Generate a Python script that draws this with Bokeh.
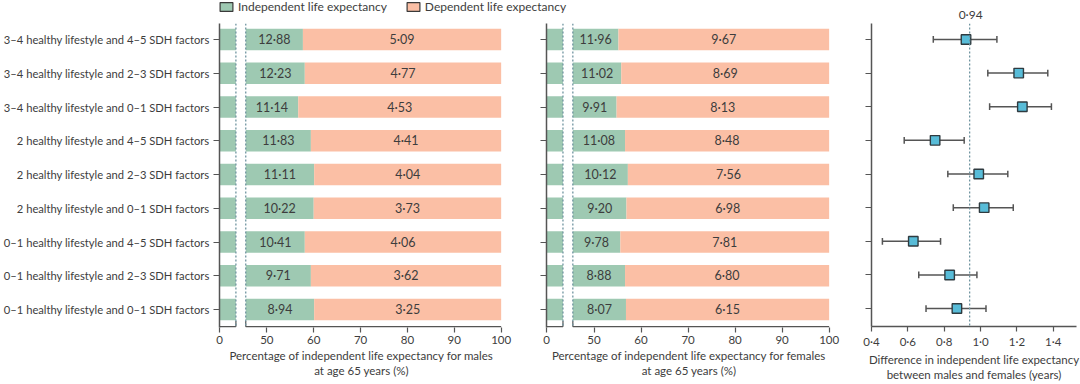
from bokeh.plotting import figure
from bokeh.layouts import row, column
from bokeh.models import (ColumnDataSource, FixedTicker, Range1d, Legend, LegendItem,
                          Title, Span, CustomJSTickFormatter)
from bokeh.core.properties import value
from bokeh.embed import file_html
from bokeh.resources import INLINE

# ---------------- data ----------------
categories = [
    "3–4 healthy lifestyle and 4–5 SDH factors",
    "3–4 healthy lifestyle and 2–3 SDH factors",
    "3–4 healthy lifestyle and 0–1 SDH factors",
    "2 healthy lifestyle and 4–5 SDH factors",
    "2 healthy lifestyle and 2–3 SDH factors",
    "2 healthy lifestyle and 0–1 SDH factors",
    "0–1 healthy lifestyle and 4–5 SDH factors",
    "0–1 healthy lifestyle and 2–3 SDH factors",
    "0–1 healthy lifestyle and 0–1 SDH factors",
]
male_indep = [12.88, 12.23, 11.14, 11.83, 11.11, 10.22, 10.41, 9.71, 8.94]
male_dep = [5.09, 4.77, 4.53, 4.41, 4.04, 3.73, 4.06, 3.62, 3.25]
male_pct = [57.7, 58.1, 56.7, 59.4, 60.1, 60.0, 58.1, 59.4, 60.1]
female_indep = [11.96, 11.02, 9.91, 11.08, 10.12, 9.20, 9.78, 8.88, 8.07]
female_dep = [9.67, 8.69, 8.13, 8.48, 7.56, 6.98, 7.81, 6.80, 6.15]
female_pct = [55.2, 55.8, 54.8, 56.6, 57.2, 56.9, 55.6, 56.6, 56.8]
diff = [0.92, 1.21, 1.23, 0.75, 0.99, 1.02, 0.63, 0.83, 0.87]
diff_lo = [0.74, 1.04, 1.05, 0.58, 0.82, 0.85, 0.46, 0.66, 0.70]
diff_hi = [1.09, 1.37, 1.39, 0.91, 1.15, 1.18, 0.78, 0.98, 1.03]
ref_diff = 0.94
pct_ticks = [0, 50, 60, 70, 80, 90, 100]
diff_ticks = [0.4, 0.6, 0.8, 1.0, 1.2, 1.4]
legend_labels = ["Independent life expectancy", "Dependent life expectancy"]

# ---------------- style ----------------
FONT = "Lato"
GREEN = "#9ec9b2"
SALMON = "#fbbfa5"
TXT = "#3d3d3d"
AX = "#555555"
DOT = "#6f94a0"
BLUE = "#58bcd8"

# broken axis: 0..LEFT_END shown, then gap, then RIGHT_START..100
LEFT_END = 3.5
RIGHT_START = 45.5
GAP = 2.1
OFFSET = RIGHT_START - LEFT_END - GAP


def disp(x):
    return x if x <= LEFT_END else x - OFFSET


def fmt(v, nd=2):
    return f"{v:.{nd}f}".replace(".", "·")


n = len(categories)
ys = [n - 1 - i for i in range(n)]
Y_RANGE = (-0.533, 8.474)
FRAME_H = 304
TOP_LEG = 23
BOTTOM = 57


def style_common(p):
    p.outline_line_color = None
    p.grid.visible = False
    p.background_fill_color = "white"
    p.border_fill_color = "white"


def style_axes(p):
    for ax in p.axis:
        ax.major_label_text_font = FONT
        ax.major_label_text_font_size = "11.5px"
        ax.major_label_text_color = TXT
        ax.axis_label_text_font = FONT
        ax.axis_label_text_font_size = "11.5px"
        ax.axis_label_text_font_style = "normal"
        ax.axis_label_text_color = TXT
        ax.axis_line_color = AX
        ax.axis_line_width = 1.5
        ax.major_tick_line_color = AX
        ax.major_tick_line_width = 1.2
        ax.major_tick_in = 0
        ax.major_tick_out = 6
        ax.minor_tick_line_color = None
    for ax in p.xaxis:
        ax.major_tick_out = 5
        ax.major_label_standoff = 3
        ax.axis_label_standoff = 2


def bar_panel(pct, indep, dep, label, width, left, right, show_labels):
    p = figure(width=width, height=FRAME_H + BOTTOM, output_backend="svg",
               toolbar_location=None,
               x_range=Range1d(0, 60.6), y_range=Range1d(*Y_RANGE),
               min_border_left=left, min_border_right=right,
               min_border_top=0, min_border_bottom=BOTTOM)
    style_common(p)
    src = ColumnDataSource(dict(
        y=ys,
        stub_r=[LEFT_END] * n,
        g_l=[disp(RIGHT_START)] * n,
        g_r=[disp(v) for v in pct],
        s_r=[disp(100)] * n,
        g_c=[(disp(RIGHT_START) + disp(v)) / 2 for v in pct],
        s_c=[(disp(v) + disp(100)) / 2 for v in pct],
        g_t=[fmt(v) for v in indep],
        s_t=[fmt(v) for v in dep],
    ))
    p.hbar(y="y", left=0, right="stub_r", height=0.64, source=src,
           fill_color=GREEN, line_color=None)
    p.hbar(y="y", left="g_l", right="g_r", height=0.64, source=src,
           fill_color=GREEN, line_color=None)
    p.hbar(y="y", left="g_r", right="s_r", height=0.64, source=src,
           fill_color=SALMON, line_color=None)
    for col_x, col_t in (("g_c", "g_t"), ("s_c", "s_t")):
        p.text(x=col_x, y="y", text=col_t, source=src, text_align="center",
               text_baseline="middle", text_font=value(FONT),
               text_font_size="12.5px", text_color=TXT)
    # break markers
    for loc in (LEFT_END, disp(RIGHT_START)):
        p.add_layout(Span(location=loc, dimension="height", line_color=DOT,
                          line_dash="2 2", line_width=1.3))
    # broken x axis line drawn in two pieces
    y0 = Y_RANGE[0] + 0.025
    p.segment(x0=[0, disp(RIGHT_START)], x1=[LEFT_END, disp(100)],
              y0=[y0, y0], y1=[y0, y0], line_color=AX, line_width=1.5)
    p.segment(x0=[LEFT_END, disp(RIGHT_START)], x1=[LEFT_END, disp(RIGHT_START)],
              y0=[y0, y0], y1=[y0 + 0.17, y0 + 0.17], line_color=AX, line_width=1.2)

    p.xaxis.ticker = FixedTicker(ticks=[disp(t) for t in pct_ticks])
    p.xaxis.formatter = CustomJSTickFormatter(
        args=dict(le=LEFT_END, off=OFFSET),
        code="const v = tick <= le ? tick : tick + off; return Math.round(v).toString();")
    p.xaxis.axis_label = label
    p.yaxis.ticker = FixedTicker(ticks=ys)
    if show_labels:
        p.yaxis.major_label_overrides = {y: c for y, c in zip(ys, categories)}
    else:
        p.yaxis.major_label_overrides = {y: "" for y in ys}
    style_axes(p)
    p.xaxis.axis_line_color = None
    p.yaxis.major_label_standoff = 4
    p.yaxis.major_label_text_font_size = "11.2px"
    return p


f1 = bar_panel(male_pct, male_indep, male_dep,
               "Percentage of independent life expectancy for males\nat age 65 years (%)",
               523, 218, 20, True)
f2 = bar_panel(female_pct, female_indep, female_dep,
               "Percentage of independent life expectancy for females\nat age 65 years (%)",
               323, 23, 15, False)

# ---------------- forest panel ----------------
F3_FRAME_W = 205
F3_RANGE = (0.4, 1.528)
f3 = figure(width=25 + F3_FRAME_W + 4, height=TOP_LEG + FRAME_H + BOTTOM,
            output_backend="svg", toolbar_location=None,
            x_range=Range1d(*F3_RANGE), y_range=Range1d(*Y_RANGE),
            min_border_left=25, min_border_right=4,
            min_border_top=TOP_LEG, min_border_bottom=BOTTOM)
style_common(f3)
fsrc = ColumnDataSource(dict(y=ys, d=diff, lo=diff_lo, hi=diff_hi,
                             cb=[y - 0.1 for y in ys], ct=[y + 0.1 for y in ys]))
f3.add_layout(Span(location=ref_diff, dimension="height", line_color=DOT,
                   line_dash="2 2", line_width=1.3))
f3.segment(x0="lo", x1="hi", y0="y", y1="y", source=fsrc, line_color=AX, line_width=1.5)
f3.segment(x0="lo", x1="lo", y0="cb", y1="ct", source=fsrc, line_color=AX, line_width=1.5)
f3.segment(x0="hi", x1="hi", y0="cb", y1="ct", source=fsrc, line_color=AX, line_width=1.5)
f3.scatter(x="d", y="y", source=fsrc, marker="square", size=9.5,
           fill_color=BLUE, line_color="#2f3b40", line_width=1.4)
# label of the reference line, placed above the frame at x = ref_diff
ref_px = (ref_diff - F3_RANGE[0]) / (F3_RANGE[1] - F3_RANGE[0]) * F3_FRAME_W
f3.add_layout(Title(text=fmt(ref_diff), align="left", offset=ref_px - 11,
                    standoff=4, text_font=FONT, text_font_size="12px",
                    text_font_style="normal", text_color=TXT), "above")
f3.xaxis.ticker = FixedTicker(ticks=diff_ticks)
f3.xaxis.formatter = CustomJSTickFormatter(
    code="return tick.toFixed(1).replace('.', '\u00b7');")
f3.xaxis.axis_label = "Difference in independent life expectancy\nbetween males and females (years)"
f3.yaxis.ticker = FixedTicker(ticks=ys)
f3.yaxis.major_label_overrides = {y: "" for y in ys}
style_axes(f3)

# ---------------- legend strip ----------------
lf = figure(width=523 + 323, height=TOP_LEG, output_backend="svg", toolbar_location=None,
            x_range=Range1d(0, 1), y_range=Range1d(0, 1), min_border=0)
style_common(lf)
lf.axis.visible = False
# legend-only renderers: one row each, placed outside the visible range
dummy = ColumnDataSource(dict(l=[2], r=[3], t=[3], b=[2]))
r1 = lf.quad(left="l", right="r", top="t", bottom="b", source=dummy,
             fill_color=GREEN, line_color="#3a3a3a", line_width=1.2)
r2 = lf.quad(left="l", right="r", top="t", bottom="b", source=dummy,
             fill_color=SALMON, line_color="#3a3a3a", line_width=1.2)
leg = Legend(items=[LegendItem(label=legend_labels[0], renderers=[r1]),
                    LegendItem(label=legend_labels[1], renderers=[r2])],
             orientation="horizontal", location=(218, 9),
             glyph_width=16, glyph_height=11, label_standoff=4, spacing=18,
             padding=0, margin=0, border_line_color=None, background_fill_alpha=0,
             label_text_font=FONT, label_text_font_size="12px",
             label_text_color=TXT, label_height=13)
lf.add_layout(leg)

layout = row(column(lf, row(f1, f2)), f3)
open("out.html", "w").write(file_html(layout, INLINE))
